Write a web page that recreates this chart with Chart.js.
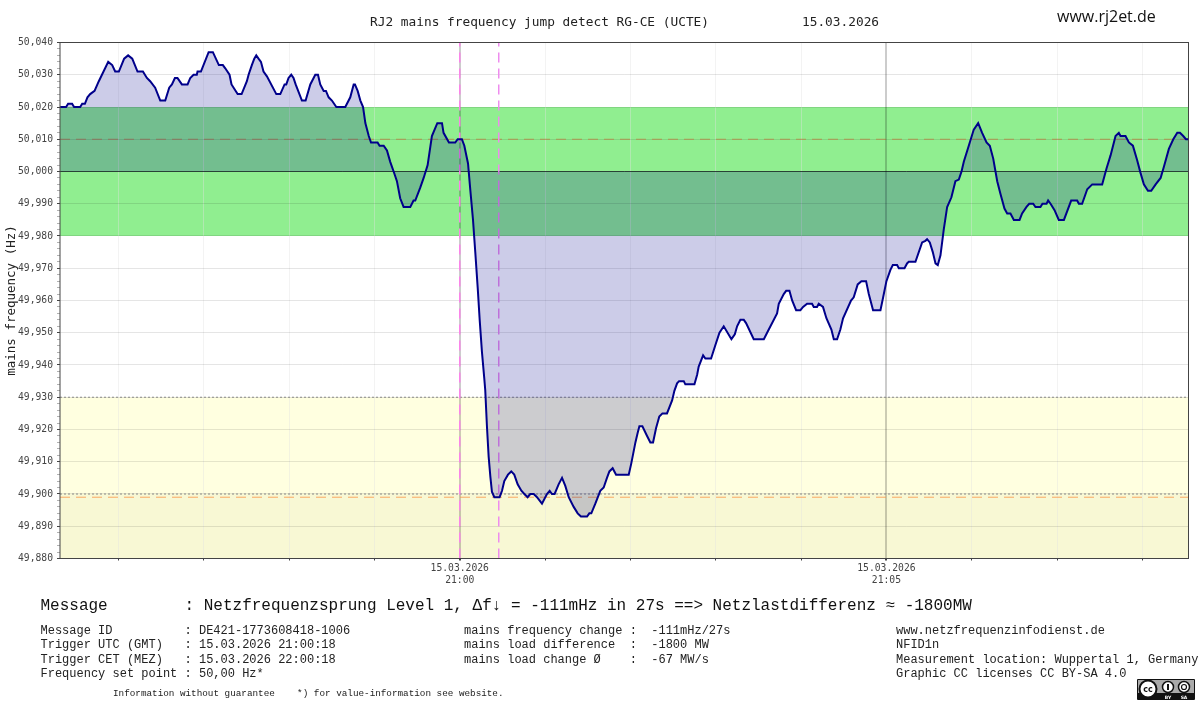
<!DOCTYPE html>
<html>
<head>
<meta charset="utf-8">
<title>RJ2 mains frequency jump detect</title>
<script src="https://cdn.jsdelivr.net/npm/chart.js@4"></script>
<style>
    html, body { margin: 0; padding: 0; background: #fff; }
    #page { position: relative; width: 1200px; height: 704px; overflow: hidden; }
    #chart { position: absolute; left: 0; top: 0; }
    .txt { position: absolute; white-space: pre; color: #111; line-height: 1; }
    .title { font: 12.8px "DejaVu Sans Mono", monospace; top: 14px; color: #222; }
    .msg { font: 16px "Liberation Mono", monospace; left: 40.5px; top: 597px; }
    .small { font: 12px/14.4px "Liberation Mono", monospace; top: 624px; color: #222; }
    .note { font: 9.3px "Liberation Mono", monospace; left: 113px; top: 688px; color: #222; }
    #site { font: 16px "Open Sans", sans-serif; left: 1057px; top: 5px; }
    #cc { position: absolute; left: 1137px; top: 679px; }
</style>
</head>
<body>
<div id="page">
    <canvas id="chart" width="1200" height="704"></canvas>
    <div class="txt title" style="left:370px">RJ2 mains frequency jump detect RG-CE (UCTE)</div>
    <div class="txt title" style="left:802px">15.03.2026</div>
    <div class="txt" id="site">www.rj2et.de</div>
    <div class="txt msg">Message        : Netzfrequenzsprung Level 1, Δf↓ = -111mHz in 27s ==> Netzlastdifferenz ≈ -1800MW</div>
    <div class="txt small" style="left:40.5px">Message ID          : DE421-1773608418-1006
Trigger UTC (GMT)   : 15.03.2026 21:00:18
Trigger CET (MEZ)   : 15.03.2026 22:00:18
Frequency set point : 50,00 Hz*</div>
    <div class="txt small" style="left:464px">mains frequency change :  -111mHz/27s
mains load difference  :  -1800 MW
mains load change Ø    :  -67 MW/s</div>
    <div class="txt small" style="left:896px">www.netzfrequenzinfodienst.de
NFID1n
Measurement location: Wuppertal 1, Germany
Graphic CC licenses CC BY-SA 4.0</div>
    <div class="txt note">Information without guarantee    *) for value-information see website.</div>
    <svg id="cc" width="58" height="21" viewBox="0 0 58 21">
        <rect x="0" y="0" width="58" height="21" rx="1" fill="#111"/>
        <rect x="1" y="1" width="56" height="13" fill="#aaa"/>
        <circle cx="11" cy="10" r="8.5" fill="#fff" stroke="#111" stroke-width="2"/>
        <text x="11" y="13" font-family="DejaVu Sans" font-weight="bold" font-size="8" text-anchor="middle" fill="#111">cc</text>
        <circle cx="31" cy="8" r="5.5" fill="#fff" stroke="#111" stroke-width="1.5"/>
        <rect x="30" y="5" width="2" height="6" fill="#111"/>
        <circle cx="47" cy="8" r="5.5" fill="#fff" stroke="#111" stroke-width="1.5"/>
        <circle cx="47" cy="8" r="2.5" fill="none" stroke="#111" stroke-width="1.2"/>
        <text x="31" y="19.5" font-family="DejaVu Sans" font-weight="bold" font-size="4.5" text-anchor="middle" fill="#fff">BY</text>
        <text x="47" y="19.5" font-family="DejaVu Sans" font-weight="bold" font-size="4.5" text-anchor="middle" fill="#fff">SA</text>
    </svg>
</div>
<script>
// Seconds relative to the 21:00:00 trigger minute
const timeSeconds = [
    -281, -276.8, -275.4, -272.6, -271.2, -266.9, -265.5, -263.6, -261.8, -259.9,
    -256.8, -253.8, -247.2, -244.4, -242.3, -239.7, -236, -233.2, -230.3, -226.6,
    -222.8, -220, -217.7, -214.2, -210.6, -207.1, -204.3, -202.4, -200.3, -198.5,
    -195.4, -191.4, -189.5, -187.2, -184.9, -184.4, -182, -176.6, -173.6, -169.4,
    -166.6, -164.9, -161.9, -160.5, -156.2, -153.4, -149.7, -148.5, -146.2, -144.5,
    -143.1, -141.5, -139.8, -138, -135.6, -129, -126.2, -123.2, -122, -120.4,
    -118.5, -116.9, -115.4, -111, -108.4, -105.1, -101.6, -99.7, -98.1, -95.7,
    -94.1, -92.2, -89.9, -86.8, -80.5, -77, -74.6, -73.7, -71.8, -69.9,
    -68, -66.4, -64, -62.4, -57.8, -56.4, -53.5, -51.2, -48.9, -46.5,
    -44.2, -41.9, -39.5, -34.8, -32.5, -31.3, -27.8, -25.4, -22.6, -19.6,
    -17.7, -15.8, -12.5, -11.4, -7.6, -3.2, -1.5, 1.5, 3.2, 5.8,
    7.4, 9.3, 10.9, 12.6, 14, 15.6, 17.2, 17.9, 19.1, 20.3,
    21.5, 22.6, 24.3, 28, 29.7, 31.3, 33.9, 36.2, 38.3, 40.7,
    43.3, 45.4, 47.7, 49.6, 52, 54.3, 57.8, 61.3, 63.2, 64.8,
    66.7, 69.5, 71.9, 74.2, 76.6, 80.1, 82.9, 85.2, 89.5, 91.1,
    92.5, 95.3, 98.8, 101.2, 103.5, 105.2, 107.5, 109.9, 118.8, 120.6,
    123.5, 125.1, 126.3, 128.4, 131.7, 134, 135.9, 138, 140.3, 142.5,
    145.7, 149.3, 150.9, 152.8, 154.2, 157.5, 158.6, 165, 166.9, 168,
    171.1, 172.7, 176.7, 179.8, 182.6, 185.6, 191, 193.4, 195, 197.3,
    199.7, 201.3, 206.7, 213.8, 216.1, 223.1, 224.3, 227.8, 229.5, 231.8,
    233.7, 236.5, 239.5, 241.4, 244.2, 247.7, 248.9, 251.2, 252.4, 255.4,
    257.8, 261.3, 263, 265.3, 267.6, 269.5, 275.1, 277, 279.8, 282.4,
    285.7, 287.6, 290.6, 295.8, 297.7, 300, 302.8, 304.5, 307.5, 308.7,
    312.7, 314.5, 315.7, 320.4, 325.1, 327.4, 328.6, 330.5, 332.6, 334.5,
    336.1, 338, 340.3, 342.7, 345.7, 348.5, 350.9, 352.8, 354.4, 357.9,
    361.4, 364.5, 367.3, 370.4, 372.7, 375.1, 377.9, 380.2, 383, 384.9,
    387.2, 389.6, 393.6, 395.4, 398.5, 400.4, 403.2, 404.8, 408.3, 409.7,
    412.6, 413.7, 415.4, 418.2, 421.2, 424.8, 429.9, 434.1, 435.3, 437.6,
    441.2, 444.7, 451.7, 454.8, 457.6, 461.1, 463.4, 464.6, 468.1, 470.5,
    473.3, 476.3, 478.7, 481, 483.9, 486.2, 489.3, 492.8, 495.1, 498.6,
    501.7, 504.5, 506.4, 508.7, 510.6, 512.7
];

// Mains frequency in Hz, one value per entry of timeSeconds
const freqHz = [
    50.02, 50.02, 50.021, 50.021, 50.02, 50.02, 50.021, 50.021, 50.023, 50.024,
    50.025, 50.028, 50.034, 50.033, 50.031, 50.031, 50.035, 50.036, 50.035, 50.031,
    50.031, 50.029, 50.028, 50.026, 50.022, 50.022, 50.026, 50.027, 50.029, 50.029,
    50.027, 50.027, 50.029, 50.03, 50.03, 50.031, 50.031, 50.037, 50.037, 50.033,
    50.033, 50.032, 50.03, 50.027, 50.024, 50.024, 50.028, 50.03, 50.033, 50.035,
    50.036, 50.035, 50.034, 50.031, 50.0295, 50.024, 50.024, 50.027, 50.027, 50.029,
    50.03, 50.029, 50.027, 50.022, 50.022, 50.027, 50.03, 50.03, 50.027, 50.025,
    50.025, 50.023, 50.022, 50.02, 50.02, 50.023, 50.027, 50.027, 50.025, 50.022,
    50.02, 50.015, 50.011, 50.009, 50.009, 50.008, 50.008, 50.0065, 50.003, 50,
    49.997, 49.9917, 49.989, 49.989, 49.991, 49.991, 49.995, 49.998, 50.002, 50.011,
    50.013, 50.015, 50.015, 50.012, 50.009, 50.009, 50.01, 50.01, 50.008, 50.0025,
    49.9943, 49.985, 49.975, 49.964, 49.954, 49.944, 49.936, 49.9323, 49.921, 49.9116,
    49.9054, 49.9007, 49.899, 49.899, 49.901, 49.904, 49.906, 49.907, 49.906, 49.903,
    49.901, 49.9, 49.899, 49.9, 49.9, 49.899, 49.897, 49.9, 49.901, 49.9,
    49.9, 49.903, 49.905, 49.9025, 49.899, 49.896, 49.894, 49.893, 49.893, 49.894,
    49.894, 49.897, 49.901, 49.902, 49.905, 49.907, 49.908, 49.906, 49.906, 49.9095,
    49.916, 49.919, 49.921, 49.921, 49.918, 49.916, 49.916, 49.9204, 49.924, 49.925,
    49.925, 49.929, 49.932, 49.9343, 49.935, 49.935, 49.934, 49.934, 49.937, 49.9395,
    49.943, 49.942, 49.942, 49.9463, 49.95, 49.952, 49.948, 49.9495, 49.952, 49.954,
    49.954, 49.953, 49.948, 49.948, 49.95, 49.956, 49.959, 49.962, 49.963, 49.963,
    49.96, 49.957, 49.957, 49.958, 49.959, 49.959, 49.958, 49.958, 49.959, 49.958,
    49.9545, 49.951, 49.948, 49.948, 49.951, 49.9545, 49.96, 49.961, 49.965, 49.966,
    49.966, 49.962, 49.957, 49.957, 49.961, 49.966, 49.9695, 49.971, 49.971, 49.97,
    49.97, 49.9715, 49.972, 49.972, 49.978, 49.9785, 49.979, 49.978, 49.975, 49.9715,
    49.971, 49.974, 49.982, 49.989, 49.992, 49.997, 49.9975, 50, 50.003, 50.008,
    50.013, 50.015, 50.012, 50.009, 50.008, 50.004, 49.997, 49.993, 49.9885, 49.987,
    49.987, 49.985, 49.985, 49.987, 49.989, 49.99, 49.99, 49.989, 49.989, 49.99,
    49.99, 49.991, 49.99, 49.988, 49.985, 49.985, 49.991, 49.991, 49.99, 49.99,
    49.9945, 49.996, 49.996, 50.001, 50.005, 50.011, 50.012, 50.011, 50.011, 50.009,
    50.008, 50.0035, 49.9995, 49.996, 49.994, 49.994, 49.996, 49.998, 50.0015, 50.007,
    50.01, 50.012, 50.012, 50.011, 50.01, 50.01
];

const minuteTicks = [-240, -180, -120, -60, 0, 60, 120, 180, 240, 300, 360, 420, 480];
const dateLabels = { 0: ['15.03.2026', '21:00'], 300: ['15.03.2026', '21:05'] };
const xRange = [-281.1, 512.4];
const yRange = [49.88, 50.04];

// Background bands [from, to, colour]
const bands = [
    [49.98, 50.02, '#90ee90'],
    [49.90, 49.93, '#ffffe0'],
    [49.88, 49.90, '#f8f8d4']
];

const setPoint = 50.0;
const upperNote = 50.01;
const triggerDrop = 49.899;
const yellowLimit = 49.93;
const lowerLimit = 49.90;
const jumpStart = 0;
const jumpEnd = 27.4;

function hLine(value, color, width, dash) {
    return {
        data: [{ x: xRange[0], y: value }, { x: xRange[1], y: value }],
        borderColor: color, borderWidth: width, borderDash: dash,
        pointRadius: 0, fill: false
    };
}

function vLine(value, color, width, dash) {
    return {
        data: [{ x: value, y: yRange[0] }, { x: value, y: yRange[1] }],
        borderColor: color, borderWidth: width, borderDash: dash,
        pointRadius: 0, fill: false
    };
}

// Bands go under the grid, frame goes over everything
const bandPlugin = {
    id: 'bandPlugin',
    beforeDraw(chart) {
        const { ctx, chartArea, scales } = chart;
        bands.forEach(b => {
            const top = scales.y.getPixelForValue(b[1]);
            const bottom = scales.y.getPixelForValue(b[0]);
            ctx.fillStyle = b[2];
            ctx.fillRect(chartArea.left, top, chartArea.width, bottom - top);
        });
    },
    afterDraw(chart) {
        const { ctx, chartArea } = chart;
        ctx.strokeStyle = '#444';
        ctx.lineWidth = 1;
        ctx.strokeRect(chartArea.left, chartArea.top, chartArea.width, chartArea.height);
    }
};

new Chart(document.getElementById('chart'), {
    type: 'line',
    plugins: [bandPlugin],
    data: {
        datasets: [
            {
                data: timeSeconds.map((t, i) => ({ x: t, y: freqHz[i] })),
                borderColor: '#00008b',
                borderWidth: 2,
                backgroundColor: 'rgba(0, 0, 139, 0.2)',
                fill: { value: setPoint },
                pointRadius: 0,
                tension: 0
            },
            vLine(jumpStart, '#fb84ea', 1.5, [10, 6]),
            vLine(jumpEnd, '#ee8cee', 1.5, [10, 6]),
            hLine(setPoint, 'rgba(0, 0, 0, 0.65)', 1, []),
            hLine(upperNote, 'rgba(215, 90, 40, 0.55)', 1, [10, 6]),
            hLine(triggerDrop, 'rgba(250, 150, 70, 0.8)', 1, [10, 6]),
            hLine(yellowLimit, '#888', 1, [2, 2]),
            hLine(lowerLimit, '#888', 1, [2, 2])
        ]
    },
    options: {
        responsive: false,
        animation: false,
        devicePixelRatio: 1,
        layout: { padding: { left: 0, top: 42.5, right: 11.5, bottom: 0 } },
        plugins: { legend: { display: false }, tooltip: { enabled: false } },
        scales: {
            x: {
                type: 'linear',
                min: xRange[0],
                max: xRange[1],
                afterBuildTicks(scale) {
                    scale.ticks = minuteTicks.map(v => ({ value: v }));
                },
                afterFit(scale) { scale.height = 145.5; },
                border: { display: false },
                grid: {
                    tickLength: 2,
                    tickColor: '#444',
                    lineWidth: c => (dateLabels[c.tick.value] ? 2 : 1),
                    color: c => (dateLabels[c.tick.value] ? 'rgba(0, 0, 0, 0.2)' : 'rgba(225, 225, 225, 0.4)')
                },
                ticks: {
                    autoSkip: false,
                    maxRotation: 0,
                    padding: 2,
                    color: '#444',
                    font: { family: 'DejaVu Sans Mono', size: 9.7, lineHeight: 1.24 },
                    callback: v => dateLabels[v] || ''
                }
            },
            y: {
                min: yRange[0],
                max: yRange[1],
                afterFit(scale) { scale.width = 60; },
                border: { display: false },
                title: {
                    display: true,
                    text: 'mains frequency (Hz)',
                    color: '#222',
                    font: { family: 'DejaVu Sans Mono', size: 12.5 },
                    padding: { top: 4, bottom: 0 }
                },
                grid: {
                    tickLength: 3,
                    tickColor: c => (Math.round(c.tick.value * 1000) % 10 === 0 ? '#444' : 'rgba(0, 0, 0, 0.3)'),
                    color: c => (Math.round(c.tick.value * 1000) % 10 === 0 ? 'rgba(0, 0, 0, 0.1)' : 'rgba(0, 0, 0, 0)')
                },
                ticks: {
                    stepSize: 0.002,
                    autoSkip: false,
                    padding: 4,
                    color: '#444',
                    font: { family: 'DejaVu Sans Mono', size: 9.7 },
                    callback: v => {
                        const m = Math.round(v * 1000);
                        return m % 10 === 0 ? (m / 1000).toFixed(3).replace('.', ',') : '';
                    }
                }
            }
        }
    }
});
</script>
</body>
</html>
